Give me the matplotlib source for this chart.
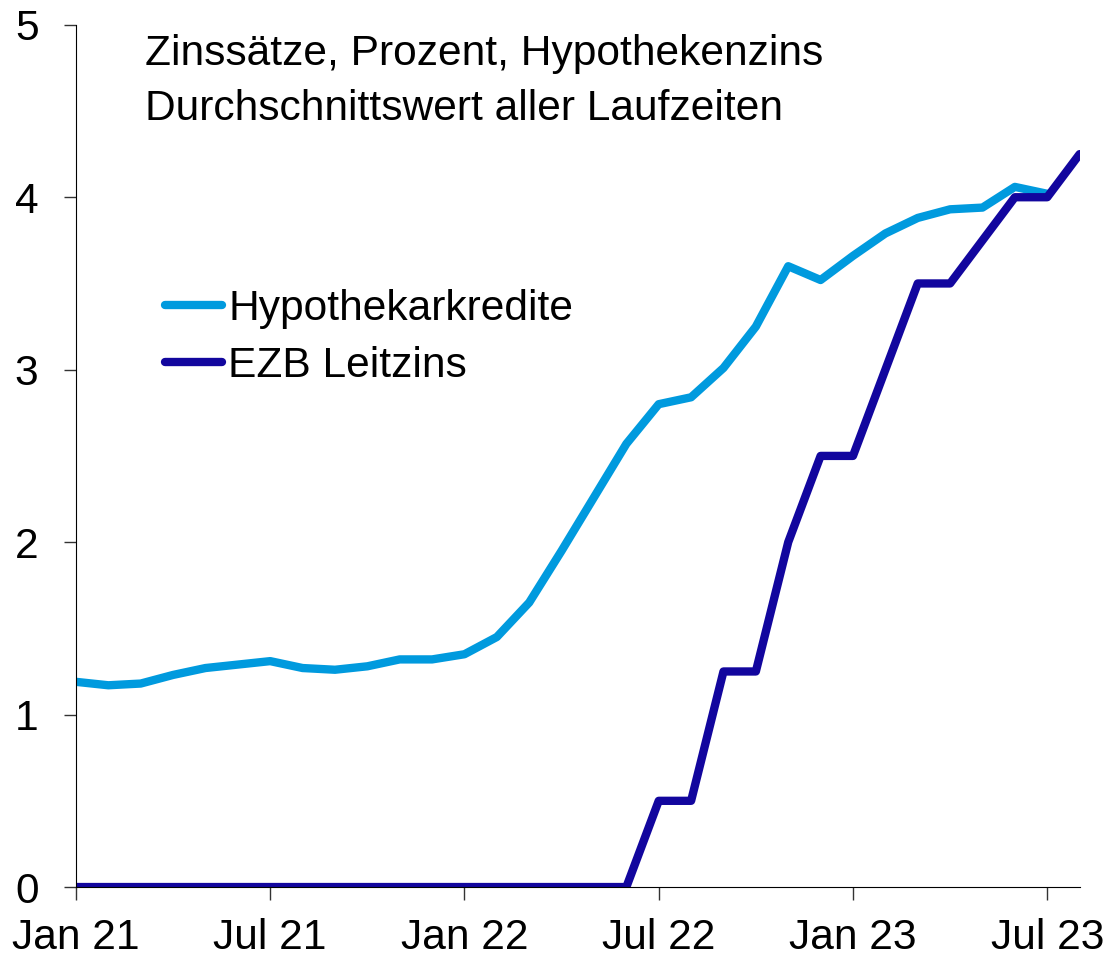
import matplotlib.pyplot as plt
import pandas as pd

plt.rcParams['font.family'] = ['Liberation Sans', 'DejaVu Sans']

# monthly values, Jan 2021 onwards
months = pd.date_range('2021-01-01', '2023-08-01', freq='MS')

hypo = [1.19, 1.17, 1.18, 1.23, 1.27, 1.29, 1.31, 1.27, 1.26, 1.28, 1.32, 1.32,
        1.35, 1.45, 1.65, 1.95, 2.26, 2.57, 2.80, 2.84, 3.01, 3.25, 3.60, 3.52,
        3.66, 3.79, 3.88, 3.93, 3.94, 4.06, 4.02]
ezb = [0, 0, 0, 0, 0, 0, 0, 0, 0, 0, 0, 0,
       0, 0, 0, 0, 0, 0, 0.5, 0.5, 1.25, 1.25, 2.0, 2.5,
       2.5, 3.0, 3.5, 3.5, 3.75, 4.0, 4.0, 4.25]

tick_pos = [0, 6, 12, 18, 24, 30]
tick_labels = ['Jan 21', 'Jul 21', 'Jan 22', 'Jul 22', 'Jan 23', 'Jul 23']

fig = plt.figure(figsize=(11.09, 9.57), dpi=100)
ax = fig.add_axes([0.0685, 0.0731, 0.905, 0.901])

x_h = list(range(len(hypo)))
x_e = list(range(len(ezb)))
ax.plot(x_h, hypo, color='#009ADE', lw=6, label='Hypothekarkredite', solid_capstyle='round')
ax.plot(x_e, ezb, color='#12069E', lw=6, label='EZB Leitzins', solid_capstyle='round')

ax.set_xlim(0, 31)
ax.set_ylim(0, 5)
ax.set_yticks([0, 1, 2, 3, 4, 5])
ax.set_xticks(tick_pos)
ax.set_xticklabels(tick_labels)
ax.tick_params(axis='both', labelsize=30.6, length=9, width=1, color='#333333')
ax.tick_params(axis='x', pad=13)
ax.tick_params(axis='y', pad=18)
for s in ['top', 'right']:
    ax.spines[s].set_visible(False)

ax.text(0.0687, 0.9536, 'Zinssätze, Prozent, Hypothekenzins',
        transform=ax.transAxes, fontsize=30.6, va='baseline', ha='left')
ax.text(0.0687, 0.8898, 'Durchschnittswert aller Laufzeiten',
        transform=ax.transAxes, fontsize=30.6, va='baseline', ha='left')

leg = ax.legend(loc='upper left', bbox_to_anchor=(0.0886, 0.694), frameon=False,
                fontsize=30.6, handlelength=1.34, handletextpad=0.15, labelspacing=0.41,
                borderpad=0, borderaxespad=0)

fig.savefig('out.png', dpi=100)
